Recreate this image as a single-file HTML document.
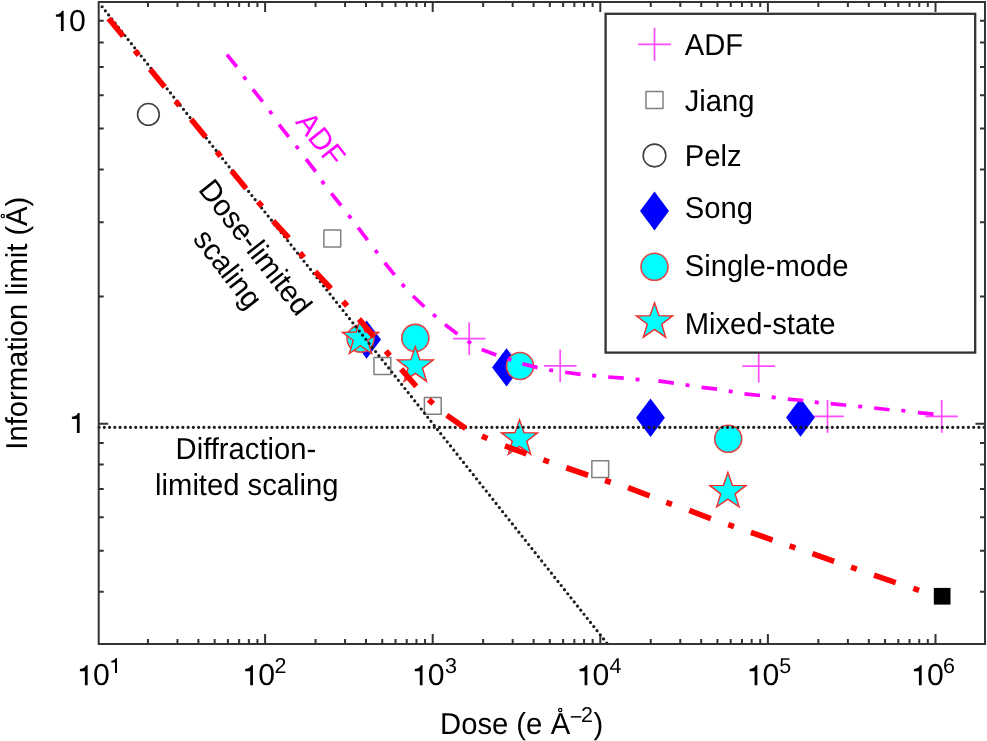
<!DOCTYPE html>
<html><head><meta charset="utf-8"><style>
html,body{margin:0;padding:0;background:#fff;}
svg{display:block;will-change:transform;}
text{font-family:"Liberation Sans", sans-serif;font-size:29.2px;fill:#000;text-rendering:geometricPrecision;}
</style></head><body>
<svg width="987" height="741" viewBox="0 0 987 741">
<rect width="987" height="741" fill="#fff"/>
<path d="M147.95 644.0V639.0M147.95 2.0V7.0M177.47 644.0V639.0M177.47 2.0V7.0M198.41 644.0V639.0M198.41 2.0V7.0M214.65 644.0V639.0M214.65 2.0V7.0M227.92 644.0V639.0M227.92 2.0V7.0M239.14 644.0V639.0M239.14 2.0V7.0M248.86 644.0V639.0M248.86 2.0V7.0M257.43 644.0V639.0M257.43 2.0V7.0M265.10 644.0V634.0M265.10 2.0V12.0M315.55 644.0V639.0M315.55 2.0V7.0M345.07 644.0V639.0M345.07 2.0V7.0M366.01 644.0V639.0M366.01 2.0V7.0M382.25 644.0V639.0M382.25 2.0V7.0M395.52 644.0V639.0M395.52 2.0V7.0M406.74 644.0V639.0M406.74 2.0V7.0M416.46 644.0V639.0M416.46 2.0V7.0M425.03 644.0V639.0M425.03 2.0V7.0M432.70 644.0V634.0M432.70 2.0V12.0M483.15 644.0V639.0M483.15 2.0V7.0M512.67 644.0V639.0M512.67 2.0V7.0M533.61 644.0V639.0M533.61 2.0V7.0M549.85 644.0V639.0M549.85 2.0V7.0M563.12 644.0V639.0M563.12 2.0V7.0M574.34 644.0V639.0M574.34 2.0V7.0M584.06 644.0V639.0M584.06 2.0V7.0M592.63 644.0V639.0M592.63 2.0V7.0M600.30 644.0V634.0M600.30 2.0V12.0M650.75 644.0V639.0M650.75 2.0V7.0M680.27 644.0V639.0M680.27 2.0V7.0M701.21 644.0V639.0M701.21 2.0V7.0M717.45 644.0V639.0M717.45 2.0V7.0M730.72 644.0V639.0M730.72 2.0V7.0M741.94 644.0V639.0M741.94 2.0V7.0M751.66 644.0V639.0M751.66 2.0V7.0M760.23 644.0V639.0M760.23 2.0V7.0M767.90 644.0V634.0M767.90 2.0V12.0M818.35 644.0V639.0M818.35 2.0V7.0M847.87 644.0V639.0M847.87 2.0V7.0M868.81 644.0V639.0M868.81 2.0V7.0M885.05 644.0V639.0M885.05 2.0V7.0M898.32 644.0V639.0M898.32 2.0V7.0M909.54 644.0V639.0M909.54 2.0V7.0M919.26 644.0V639.0M919.26 2.0V7.0M927.83 644.0V639.0M927.83 2.0V7.0M935.50 644.0V634.0M935.50 2.0V12.0M98.7 591.71H103.7M985.0 591.71H980.0M98.7 550.79H103.7M985.0 550.79H980.0M98.7 517.36H103.7M985.0 517.36H980.0M98.7 489.10H103.7M985.0 489.10H980.0M98.7 464.62H103.7M985.0 464.62H980.0M98.7 443.02H103.7M985.0 443.02H980.0M98.7 423.70H108.2M985.0 423.70H975.5M98.7 296.61H103.7M985.0 296.61H980.0M98.7 222.26H103.7M985.0 222.26H980.0M98.7 169.51H103.7M985.0 169.51H980.0M98.7 128.59H103.7M985.0 128.59H980.0M98.7 95.16H103.7M985.0 95.16H980.0M98.7 66.90H103.7M985.0 66.90H980.0M98.7 42.42H103.7M985.0 42.42H980.0M98.7 20.82H103.7M985.0 20.82H980.0" stroke="#333333" stroke-width="2" fill="none"/>
<path d="M452.90 338.60H485.50M469.20 322.30V354.90" stroke="#ff4cff" stroke-width="1.7" fill="none"/>
<path d="M543.90 365.80H576.50M560.20 349.50V382.10" stroke="#ff4cff" stroke-width="1.7" fill="none"/>
<path d="M742.40 366.20H775.00M758.70 349.90V382.50" stroke="#ff4cff" stroke-width="1.7" fill="none"/>
<path d="M811.20 416.40H843.80M827.50 400.10V432.70" stroke="#ff4cff" stroke-width="1.7" fill="none"/>
<path d="M925.40 416.40H958.00M941.70 400.10V432.70" stroke="#ff4cff" stroke-width="1.7" fill="none"/>
<rect x="323.90" y="230.10" width="16.8" height="16.8" fill="none" stroke="#808080" stroke-width="1.5" stroke-linejoin="round"/>
<rect x="374.00" y="357.60" width="16.8" height="16.8" fill="none" stroke="#808080" stroke-width="1.5" stroke-linejoin="round"/>
<rect x="424.40" y="397.55" width="16.8" height="16.8" fill="none" stroke="#808080" stroke-width="1.5" stroke-linejoin="round"/>
<rect x="591.85" y="460.65" width="16.8" height="16.8" fill="none" stroke="#808080" stroke-width="1.5" stroke-linejoin="round"/>
<circle cx="148.40" cy="114.40" r="10.85" fill="none" stroke="#404040" stroke-width="1.6"/>
<path d="M366.60 320.40L381.00 339.60L366.60 358.80L352.20 339.60Z" fill="#0000ff"/>
<path d="M506.50 348.20L520.90 367.40L506.50 386.60L492.10 367.40Z" fill="#0000ff"/>
<path d="M650.50 398.50L664.90 417.70L650.50 436.90L636.10 417.70Z" fill="#0000ff"/>
<path d="M800.50 398.30L814.90 417.50L800.50 436.70L786.10 417.50Z" fill="#0000ff"/>
<circle cx="360.50" cy="338.60" r="13.5" fill="#00ffff" stroke="#e04646" stroke-width="1.6"/>
<circle cx="415.30" cy="337.90" r="13.5" fill="#00ffff" stroke="#e04646" stroke-width="1.6"/>
<circle cx="520.00" cy="366.00" r="13.5" fill="#00ffff" stroke="#e04646" stroke-width="1.6"/>
<circle cx="728.20" cy="438.80" r="13.5" fill="#00ffff" stroke="#e04646" stroke-width="1.6"/>
<polygon points="360.50,319.20 364.97,332.05 378.57,332.33 367.73,340.55 371.67,353.57 360.50,345.80 349.33,353.57 353.27,340.55 342.43,332.33 356.03,332.05" fill="#00ffff" stroke="#f42a2a" stroke-width="1.4" stroke-linejoin="miter"/>
<polygon points="415.30,346.80 419.77,359.65 433.37,359.93 422.53,368.15 426.47,381.17 415.30,373.40 404.13,381.17 408.07,368.15 397.23,359.93 410.83,359.65" fill="#00ffff" stroke="#f42a2a" stroke-width="1.4" stroke-linejoin="miter"/>
<polygon points="519.50,419.80 523.97,432.65 537.57,432.93 526.73,441.15 530.67,454.17 519.50,446.40 508.33,454.17 512.27,441.15 501.43,432.93 515.03,432.65" fill="#00ffff" stroke="#f42a2a" stroke-width="1.4" stroke-linejoin="miter"/>
<polygon points="727.90,472.50 732.37,485.35 745.97,485.63 735.13,493.85 739.07,506.87 727.90,499.10 716.73,506.87 720.67,493.85 709.83,485.63 723.43,485.35" fill="#00ffff" stroke="#f42a2a" stroke-width="1.4" stroke-linejoin="miter"/>
<rect x="933.8" y="587.9" width="16.7" height="16.7" fill="#000"/>
<path d="M99.1 427.35H985" stroke="#1c1c1c" stroke-width="3.2" stroke-linecap="round" stroke-dasharray="0 5.237" fill="none"/>
<path d="M102.1 6.75L606.8 643" stroke="#1c1c1c" stroke-width="3.2" stroke-linecap="round" stroke-dasharray="0 5.2394" fill="none"/>
<path d="M226.97 54.56L236.73 66.74M243.64 76.47L245.96 79.73M252.87 89.36L262.63 101.54M269.54 110.77L271.86 114.03M279.08 124.72L288.72 136.98M295.97 145.82L298.43 148.98M306.05 159.20L315.65 171.50M321.83 180.88L324.17 184.12M331.33 193.31L341.07 205.49M348.58 215.11L351.02 218.29M358.16 227.72L367.54 240.18M375.19 250.01L377.61 253.19M384.72 262.75L394.58 274.85M401.98 283.99L404.62 287.01M413.00 296.02L424.30 306.78M433.09 314.29L436.11 316.91M444.95 324.59L457.45 333.91M467.72 341.12L471.08 343.28M481.72 349.45L496.28 355.05M507.60 358.67L511.40 359.93M522.45 363.74L537.55 367.66M549.13 369.97L553.07 370.63M565.17 372.28L580.63 374.42M592.21 375.41L596.19 375.79M608.22 377.00L623.78 378.20M635.51 379.34L639.49 379.66M658.37 380.92L673.83 383.08M685.62 384.89L689.58 385.51M701.55 387.41L717.05 389.19M728.73 391.07L732.67 391.73M744.49 393.82L760.01 395.48M771.72 397.14L775.68 397.66M787.78 399.12L803.32 400.48M814.81 402.17L818.79 402.63M830.69 403.68L846.21 405.22M858.21 406.30L862.19 406.70M874.10 407.98L889.60 409.72M901.31 410.50L905.29 410.90M917.93 412.61L933.47 414.09" stroke="#ff00ff" stroke-width="3.7" fill="none"/>
<path d="M108.61 18.43L123.19 36.22M134.90 50.58L138.70 55.22M150.11 69.21L164.69 86.99M175.60 101.08L179.40 105.72M191.11 119.21L205.69 136.99M216.88 151.62L220.52 156.38M231.55 170.81L246.15 188.59M258.08 201.70L261.92 206.30M273.11 220.99L288.79 237.81M300.05 252.84L303.75 257.56M315.21 271.69L330.89 288.51M343.07 301.49L347.13 305.91M359.02 319.12L373.88 336.68M385.87 351.00L389.73 355.60M401.12 369.15L416.28 386.45M428.82 399.64L433.18 403.76M446.74 415.32L465.66 428.38M481.96 436.08L487.44 438.52M504.98 445.76L526.52 453.84M543.37 459.91L549.03 461.89M566.32 467.77L588.08 475.23M605.04 480.51L610.76 482.29M628.11 487.65L649.59 495.85M666.28 502.36L671.92 504.44M689.28 510.47L710.82 518.53M728.26 524.62L733.94 526.58M750.93 532.35L772.57 540.15M789.66 545.94L795.34 547.86M812.47 553.69L834.13 561.41M851.06 567.12L856.74 569.08M873.99 575.13L895.71 582.67M913.35 588.46L919.05 590.34" stroke="#ff0000" stroke-width="5.6" fill="none"/>
<rect x="98.7" y="2.0" width="886.3" height="642.0" fill="none" stroke="#333333" stroke-width="2"/>
<rect x="605.6" y="13.8" width="369.6" height="338.8" fill="#fff" stroke="#333" stroke-width="2.3"/>
<path d="M638.00 44.30H671.00M654.50 27.80V60.80" stroke="#ff4cff" stroke-width="1.7" fill="none"/>
<rect x="646.00" y="91.40" width="17.0" height="17.0" fill="none" stroke="#808080" stroke-width="1.5" stroke-linejoin="round"/>
<circle cx="654.50" cy="155.50" r="11.35" fill="none" stroke="#404040" stroke-width="1.6"/>
<path d="M654.50 191.50L669.00 211.00L654.50 230.50L640.00 211.00Z" fill="#0000ff"/>
<circle cx="654.50" cy="266.80" r="13.5" fill="#00ffff" stroke="#e04646" stroke-width="1.6"/>
<polygon points="654.50,302.80 658.97,315.65 672.57,315.93 661.73,324.15 665.67,337.17 654.50,329.40 643.33,337.17 647.27,324.15 636.43,315.93 650.03,315.65" fill="#00ffff" stroke="#f42a2a" stroke-width="1.4" stroke-linejoin="miter"/>
<text transform="translate(684.70 55.00) scale(1 1.035)">ADF</text>
<text transform="translate(684.70 110.80) scale(1 1.035)">Jiang</text>
<text transform="translate(684.70 166.40) scale(1 1.035)">Pelz</text>
<text transform="translate(684.70 218.40) scale(1 1.035)">Song</text>
<text transform="translate(684.70 276.30) scale(1 1.035)">Single-mode</text>
<text transform="translate(684.70 334.00) scale(1 1.035)">Mixed-state</text>
<path transform="translate(55.90 30.90) scale(1.0000)" d="M5.0 0H7.75V-20.1H6.1C5.5-18.3 3.6-16.5 0-16.3V-14.1H5.0Z" fill="#000"/>
<text transform="translate(69.10 30.90) scale(1.035 1.04)">0</text>
<path transform="translate(71.90 433.10) scale(1.0000)" d="M5.0 0H7.75V-20.1H6.1C5.5-18.3 3.6-16.5 0-16.3V-14.1H5.0Z" fill="#000"/>
<path transform="translate(79.90 685.30) scale(1.0000)" d="M5.0 0H7.75V-20.1H6.1C5.5-18.3 3.6-16.5 0-16.3V-14.1H5.0Z" fill="#000"/>
<text transform="translate(92.90 685.30) scale(1.035 1.04)">0</text>
<path transform="translate(111.30 672.90) scale(0.7363)" d="M5.0 0H7.75V-20.1H6.1C5.5-18.3 3.6-16.5 0-16.3V-14.1H5.0Z" fill="#000"/>
<path transform="translate(245.20 685.30) scale(1.0000)" d="M5.0 0H7.75V-20.1H6.1C5.5-18.3 3.6-16.5 0-16.3V-14.1H5.0Z" fill="#000"/>
<text transform="translate(258.20 685.30) scale(1.035 1.04)">0</text>
<text x="274.40" y="672.9" style="font-size:21.5px">2</text>
<path transform="translate(414.80 685.30) scale(1.0000)" d="M5.0 0H7.75V-20.1H6.1C5.5-18.3 3.6-16.5 0-16.3V-14.1H5.0Z" fill="#000"/>
<text transform="translate(427.80 685.30) scale(1.035 1.04)">0</text>
<text x="445.00" y="672.9" style="font-size:21.5px">3</text>
<path transform="translate(579.60 685.30) scale(1.0000)" d="M5.0 0H7.75V-20.1H6.1C5.5-18.3 3.6-16.5 0-16.3V-14.1H5.0Z" fill="#000"/>
<text transform="translate(592.60 685.30) scale(1.035 1.04)">0</text>
<text x="609.50" y="672.9" style="font-size:21.5px">4</text>
<path transform="translate(749.60 685.30) scale(1.0000)" d="M5.0 0H7.75V-20.1H6.1C5.5-18.3 3.6-16.5 0-16.3V-14.1H5.0Z" fill="#000"/>
<text transform="translate(762.60 685.30) scale(1.035 1.04)">0</text>
<text x="779.30" y="672.9" style="font-size:21.5px">5</text>
<path transform="translate(913.90 685.30) scale(1.0000)" d="M5.0 0H7.75V-20.1H6.1C5.5-18.3 3.6-16.5 0-16.3V-14.1H5.0Z" fill="#000"/>
<text transform="translate(926.90 685.30) scale(1.035 1.04)">0</text>
<text x="943.10" y="672.9" style="font-size:21.5px">6</text>
<text transform="translate(27.00 449.70) rotate(-90) scale(1 1.035)">Information limit (A)</text>
<circle cx="2.8" cy="216.0" r="1.65" fill="none" stroke="#000" stroke-width="1.2"/>
<text transform="translate(440.10 734.30) scale(1 1.035)">Dose (e</text>
<text transform="translate(550.70 734.30) scale(1 1.035)">A</text>
<circle cx="560.2" cy="710.0" r="1.65" fill="none" stroke="#000" stroke-width="1.2"/>
<text x="569.8" y="724.2" style="font-size:21.5px">−</text>
<text x="581.0" y="722" style="font-size:21.5px">2</text>
<text transform="translate(593.60 734.30) scale(1 1.035)">)</text>
<text style="fill:#ff00ff" transform="translate(294.80 122.30) rotate(52) scale(1 1.035)">ADF</text>
<text transform="translate(197.50 189.70) rotate(52) scale(1 1.035)"><tspan x="0" y="0">Dose-limited</tspan><tspan x="35.7" y="33.8">scaling</tspan></text>
<text transform="translate(175.60 459.40) scale(1 1.035)">Diffraction-</text>
<text transform="translate(155.10 494.80) scale(1 1.035)">limited scaling</text>
</svg>
</body></html>
